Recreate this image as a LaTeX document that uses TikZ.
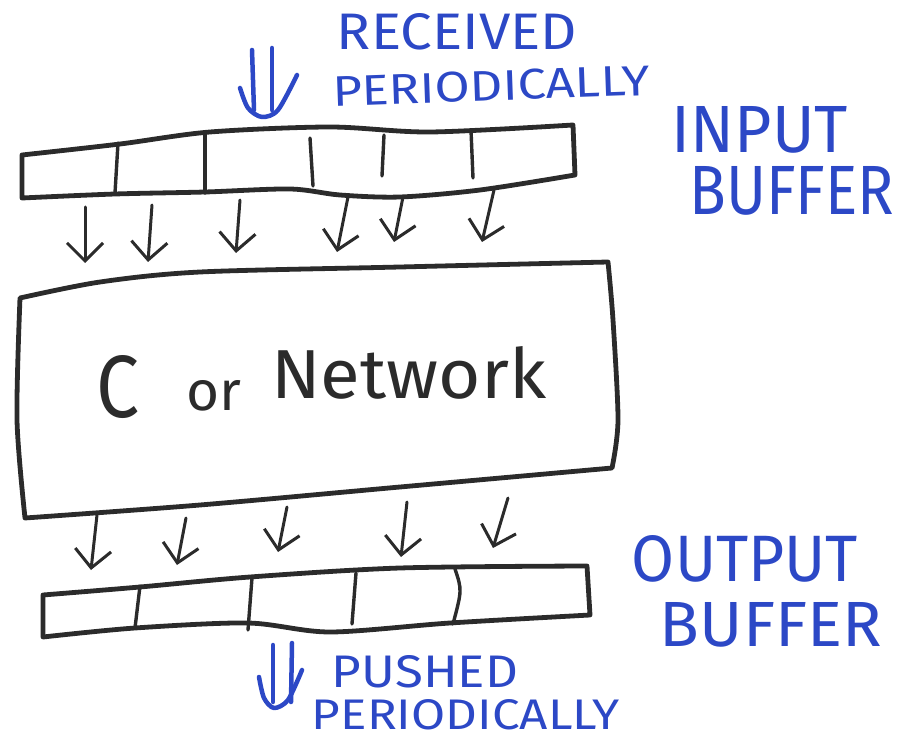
\documentclass[tikz,border=0pt]{standalone}
\usepackage{fontspec}
\usepackage{graphicx}
\setmainfont{Fira Sans}
\usetikzlibrary{arrows.meta}
\definecolor{ink}{HTML}{2B2B2B}
\definecolor{pen}{HTML}{2C48C6}
\tikzset{
  outline/.style={draw=ink, line width=4.8pt, line join=round, line cap=round},
  divider/.style={draw=ink, line width=3.4pt, line cap=round},
  flow/.style={draw=ink, line width=3pt, line cap=round,
    -{Straight Barb[length=18pt, width=36pt, line width=3pt]}},
  penline/.style={draw=pen, line width=4.5pt, line cap=round, line join=round},
  label/.style={text=pen, inner sep=0pt},
}
\newcommand{\fit}[3]{\resizebox{#1pt}{#2pt}{#3}}
\begin{document}
\begin{tikzpicture}[x=1pt,y=-1pt]
\useasboundingbox (0,0) rectangle (898,741);

% ---------------- input buffer ----------------
\draw[outline] plot[smooth] coordinates {(22,155) (120,144) (210,132) (330,127) (430,132) (573,125)}
  -- (575,175)
  -- plot[smooth] coordinates {(575,175) (480,190) (400,197) (340,195) (290,189) (205,192) (115,194) (22,198)}
  -- cycle;
\draw[divider] (118,143) -- (115,193);
\draw[divider] (205,134) -- (205,193);
\draw[divider] (310,138) -- (313,186);
\draw[divider] (384,135) -- (382,176);
\draw[divider] (471,130) -- (473,178);

% ---------------- central box ----------------
\draw[outline] plot[smooth] coordinates {(20,298) (100,282) (200,272) (400,267) (608,262)}
  -- plot[smooth] coordinates {(608,262) (613,320) (618,420) (612,468)}
  -- plot[smooth] coordinates {(612,468) (400,487) (200,505) (25,518)}
  -- plot[smooth] coordinates {(25,518) (17,420) (20,298)}
  -- cycle;
\node[anchor=base west, inner sep=0pt, text=ink] (core) at (96,417)
  {\fit{43}{62}{C}\hspace{47pt}\raisebox{7pt}{\fit{55}{30}{or}}\hspace{30pt}\raisebox{19pt}{\fit{275}{52}{Network}}};

% ---------------- output buffer ----------------
\draw[outline] plot[smooth] coordinates {(43,595) (140,587) (250,577) (400,568) (587,566)}
  -- (590,615)
  -- plot[smooth] coordinates {(590,615) (450,623) (330,632) (248,623) (135,628) (43,637)}
  -- cycle;
\draw[divider] (140,586) -- (135,628);
\draw[divider] (252,578) -- (248,630);
\draw[divider] (356,573) -- (352,624);
\draw[divider] (455,569) .. controls (462,590) .. (453,624);

% ---------------- arrows: input buffer -> box ----------------
\coordinate (i1) at (85,207);  \coordinate (j1) at (85,263);
\coordinate (i2) at (152,205); \coordinate (j2) at (148,262);
\coordinate (i3) at (240,200); \coordinate (j3) at (236,253);
\coordinate (i4) at (348,197); \coordinate (j4) at (337,252);
\coordinate (i5) at (403,197); \coordinate (j5) at (394,242);
\coordinate (i6) at (494,190); \coordinate (j6) at (482,242);
\foreach \k in {1,...,6} { \draw[flow] (i\k) -- (j\k); }

% ---------------- arrows: box -> output buffer ----------------
\coordinate (o1) at (97,515);  \coordinate (p1) at (91,570);
\coordinate (o2) at (186,518); \coordinate (p2) at (177,565);
\coordinate (o3) at (287,507); \coordinate (p3) at (278,552);
\coordinate (o4) at (407,502); \coordinate (p4) at (401,557);
\coordinate (o5) at (508,498); \coordinate (p5) at (493,548);
\foreach \k in {1,...,5} { \draw[flow] (o\k) -- (p\k); }

% ---------------- double arrows (blue) ----------------
\draw[penline] (252,50) -- (254,110);
\draw[penline] (272,48) -- (272,110);
\draw[penline] plot[smooth] coordinates {(240,88) (248,108) (262,117) (278,110) (297,75)};

\draw[penline] (273,645) -- (273,702);
\draw[penline] (292,643) -- (291,702);
\draw[penline] plot[smooth] coordinates {(259,677) (264,698) (274,708) (288,700) (302,670)};

% ---------------- labels ----------------
\node[label] (recv1) at (457,32) {\fit{240}{36}{RECEIVED}};
\node[label, rotate=2] (recv2) at (491,86) {\fit{317}{30}{PERIODICALLY}};
\node[label] (inlab1) at (760,130) {\fit{176}{46}{INPUT}};
\node[label] (inlab2) at (792,191) {\fit{205}{48}{BUFFER}};
\node[label] (outlab1) at (745,559) {\fit{226}{46}{OUTPUT}};
\node[label] (outlab2) at (771,625) {\fit{222}{44}{BUFFER}};
\node[label] (push1) at (425,672) {\fit{186}{32}{PUSHED}};
\node[label] (push2) at (466,715) {\fit{308}{30}{PERIODICALLY}};
\end{tikzpicture}
\end{document}
